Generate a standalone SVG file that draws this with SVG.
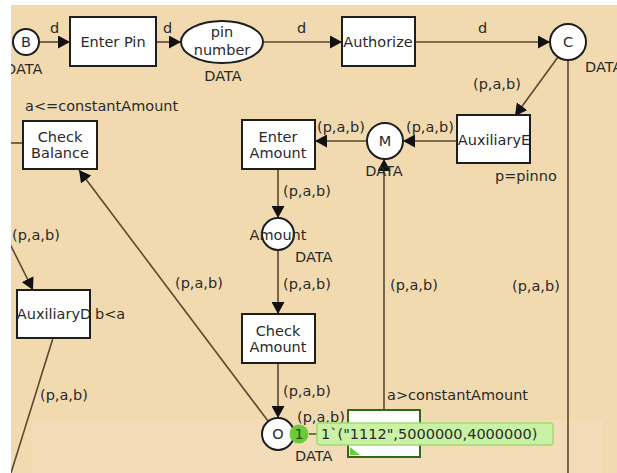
<svg xmlns="http://www.w3.org/2000/svg" width="617" height="473" viewBox="0 0 617 473">
<style>
text{font-family:"DejaVu Sans","Liberation Sans",sans-serif;font-size:14.5px;fill:#2a2a2a}
.n{text-anchor:middle}
.tr{fill:#fff;stroke:#1e1e1e;stroke-width:2}
.pl{fill:#fff;stroke:#1e1e1e;stroke-width:2}
.arc{fill:none;stroke:#5a4830;stroke-width:1.6}
.ah{marker-end:url(#ah)}
</style>
<defs>
<marker id="ah" markerUnits="userSpaceOnUse" markerWidth="13" markerHeight="13" refX="12" refY="6.5" orient="auto">
<path d="M0,0 L12,6.5 L0,13 z" fill="#111"/>
</marker>
</defs>
<rect x="0" y="0" width="617" height="473" fill="#f1dab0"/>
<rect x="32" y="420" width="571" height="53" fill="#fff" opacity="0.1"/>

<g id="connectors">
<line class="arc ah" x1="39" y1="42" x2="70" y2="42"/>
<text x="50" y="33">d</text>
<line class="arc ah" x1="156" y1="42" x2="181" y2="42"/>
<text x="163" y="33">d</text>
<line class="arc ah" x1="263" y1="42" x2="342" y2="42"/>
<text x="297" y="33">d</text>
<line class="arc ah" x1="415" y1="42" x2="550" y2="42"/>
<text x="478" y="33">d</text>
<line class="arc ah" x1="558" y1="57" x2="515" y2="116"/>
<text x="473" y="89">(p,a,b)</text>
<line class="arc ah" x1="457" y1="141" x2="403" y2="141"/>
<text x="406" y="132">(p,a,b)</text>
<line class="arc ah" x1="367" y1="141" x2="315" y2="141"/>
<text x="317" y="132">(p,a,b)</text>
<line class="arc ah" x1="278" y1="169" x2="278" y2="218"/>
<text x="283" y="196">(p,a,b)</text>
<line class="arc ah" x1="278" y1="250" x2="278" y2="314"/>
<text x="283" y="289">(p,a,b)</text>
<line class="arc ah" x1="278" y1="363" x2="278" y2="418"/>
<text x="283" y="396">(p,a,b)</text>
<line class="arc ah" x1="268" y1="421" x2="79" y2="170"/>
<text x="175" y="288">(p,a,b)</text>
<line class="arc" x1="11" y1="143" x2="23" y2="143"/>
<line class="arc ah" x1="8" y1="240" x2="33" y2="290"/>
<text x="12" y="240">(p,a,b)</text>
<line class="arc" x1="53" y1="338" x2="11" y2="473"/>
<text x="40" y="400">(p,a,b)</text>
<line class="arc ah" x1="384" y1="410" x2="384" y2="159"/>
<text x="390" y="290">(p,a,b)</text>
<line class="arc" x1="568" y1="60" x2="568" y2="473"/>
<text x="512" y="291">(p,a,b)</text>
<text x="297" y="422">(p,a,b)</text>
</g>

<g id="B"><circle class="pl" cx="26" cy="42" r="13"/><text class="n" x="26" y="47">B</text><text x="5" y="74">DATA</text></g>
<g id="EnterPin"><rect class="tr" x="70" y="17" width="86" height="49"/><text class="n" x="113" y="47">Enter Pin</text></g>
<g id="pinnumber"><ellipse class="pl" cx="222" cy="42" rx="41" ry="21"/><text class="n" x="222" y="37">pin</text><text class="n" x="222" y="55">number</text><text class="n" x="223" y="81">DATA</text></g>
<g id="Authorize"><rect class="tr" x="342" y="17" width="73" height="49"/><text class="n" x="378" y="47">Authorize</text></g>
<g id="C"><circle class="pl" cx="568" cy="42" r="18"/><text class="n" x="568" y="47">C</text><text x="585" y="72">DATA</text></g>
<g id="AuxiliaryE"><rect class="tr" x="457" y="115" width="73" height="48"/><text class="n" x="494" y="145">AuxiliaryE</text><text x="495" y="181">p=pinno</text></g>
<g id="M"><circle class="pl" cx="385" cy="141" r="18"/><text class="n" x="385" y="146">M</text><text class="n" x="384" y="176">DATA</text></g>
<g id="EnterAmount"><rect class="tr" x="242" y="120" width="73" height="49"/><text class="n" x="278" y="142">Enter</text><text class="n" x="278" y="158">Amount</text></g>
<g id="Amount"><circle class="pl" cx="278" cy="234" r="16"/><text class="n" x="278" y="240">Amount</text><text x="295" y="262">DATA</text></g>
<g id="CheckAmount"><rect class="tr" x="242" y="314" width="73" height="49"/><text class="n" x="278" y="336">Check</text><text class="n" x="278" y="352">Amount</text></g>
<g id="O"><circle class="pl" cx="278" cy="434" r="16"/><text class="n" x="278" y="439">O</text><text x="295" y="461">DATA</text></g>
<g id="CheckBalance"><rect class="tr" x="23" y="121" width="74" height="48"/><text class="n" x="60" y="142">Check</text><text class="n" x="60" y="158">Balance</text><text x="25" y="111">a&lt;=constantAmount</text></g>
<g id="AuxiliaryD"><rect class="tr" x="17" y="290" width="73" height="48"/><text class="n" x="54" y="319">AuxiliaryD</text><text x="95" y="319">b&lt;a</text></g>
<g id="Withdraw"><rect x="348" y="410" width="72" height="47" fill="#fff" stroke="#2f6a1c" stroke-width="2"/><path d="M350,447 L360,455 L350,455 z" fill="#6acb3a"/><text x="387" y="400">a&gt;constantAmount</text></g>

<g id="token">
<line x1="309" y1="434" x2="318" y2="434" stroke="#3a5a20" stroke-width="1.5"/>
<rect x="317" y="423" width="236" height="22" rx="3" fill="#c9f2a6" stroke="#9edc6c" stroke-width="1.5"/>
<text x="321" y="439" fill="#2a2a2a">1`("1112",5000000,4000000)</text>
<circle cx="299" cy="434" r="9.5" fill="#6acb3a"/>
<text class="n" x="299" y="439" style="fill:#2f4a12">1</text>
</g>
<rect x="0" y="0" width="11" height="473" fill="#fff"/>
<rect x="0" y="0" width="617" height="5" fill="#fff"/>
</svg>
